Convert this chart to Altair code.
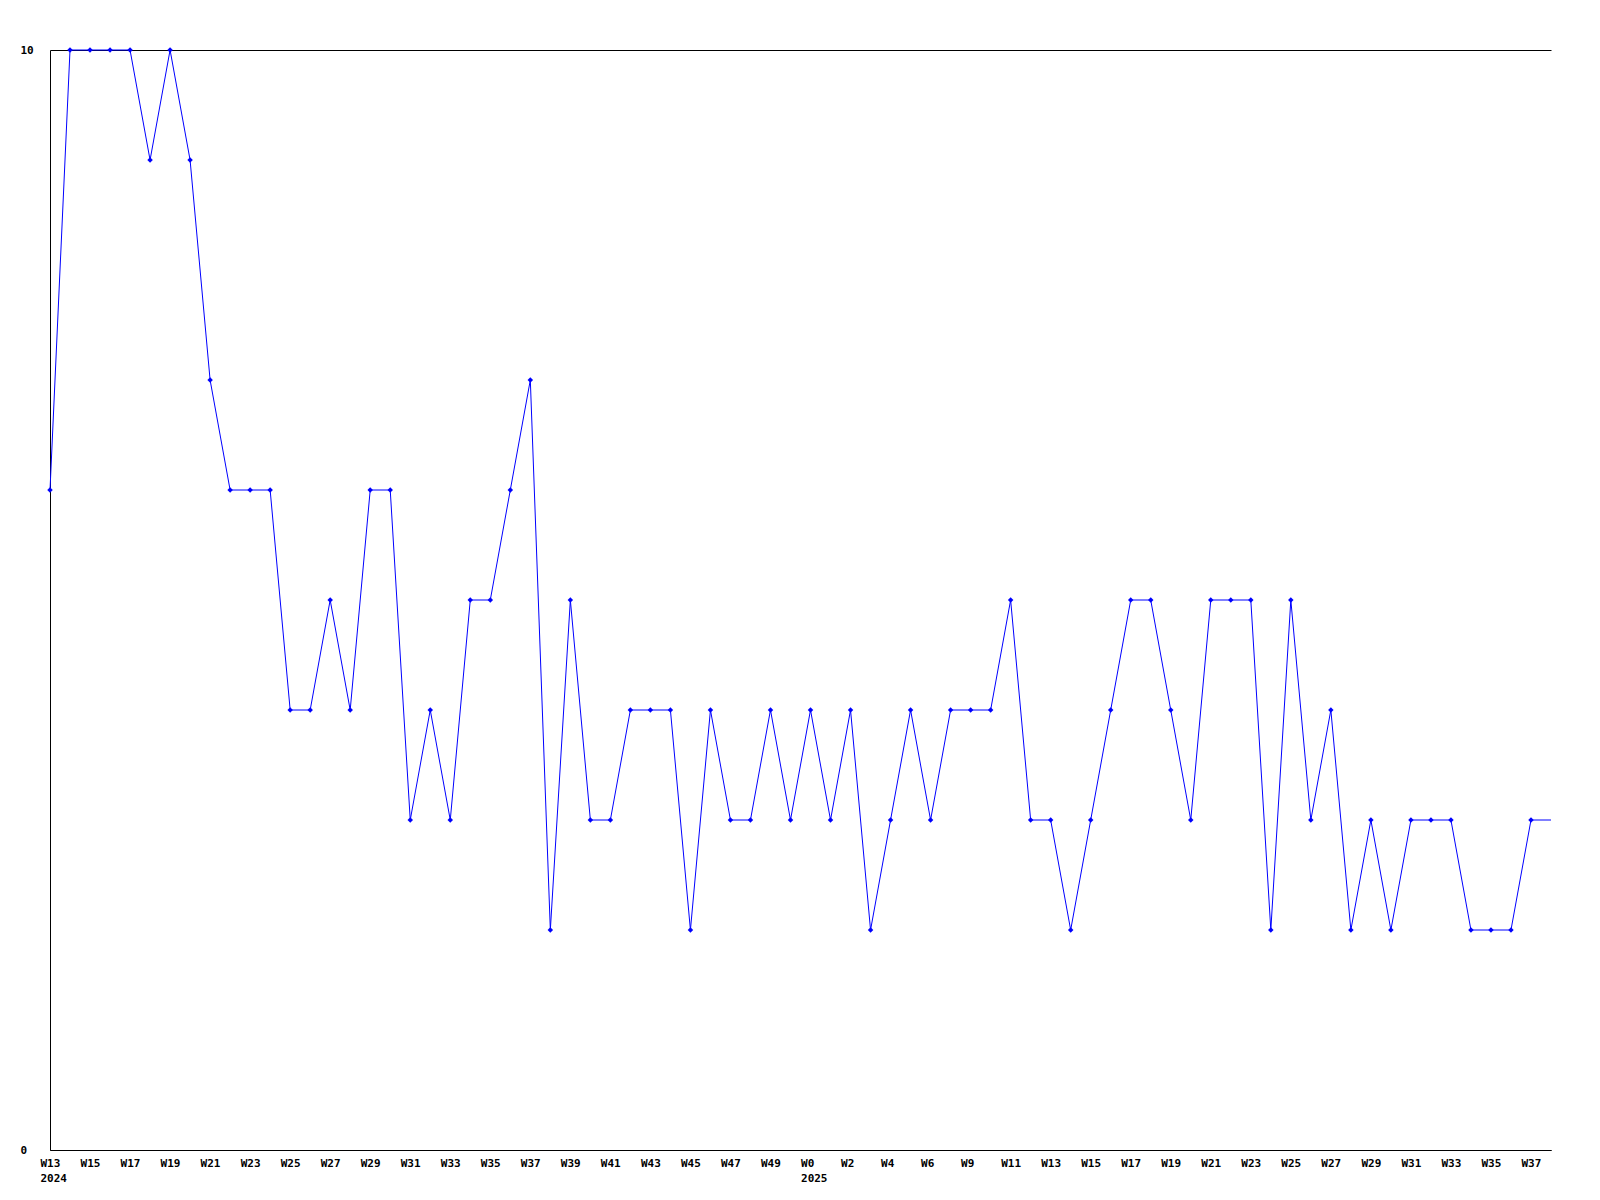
import json
import altair as alt
import pandas as pd

# one value per week, from 2024 W13 to the current week of 2025
values = [6, 10, 10, 10, 10, 9, 10, 9, 7, 6,
          6, 6, 4, 4, 5, 4, 6, 6, 3, 4,
          3, 5, 5, 6, 7, 2, 5, 3, 3, 4,
          4, 4, 2, 4, 3, 3, 4, 3, 4, 3,
          4, 2, 3, 4, 3, 4, 4, 4, 5, 3,
          3, 2, 3, 4, 5, 5, 4, 3, 5, 5,
          5, 2, 5, 3, 4, 2, 3, 2, 3, 3,
          3, 2, 2, 2, 3, 3]

# tick labels (every second week)
week_labels = ["W13", "W15", "W17", "W19", "W21", "W23", "W25", "W27", "W29", "W31",
               "W33", "W35", "W37", "W39", "W41", "W43", "W45", "W47", "W49", "W0",
               "W2", "W4", "W6", "W9", "W11", "W13", "W15", "W17", "W19", "W21",
               "W23", "W25", "W27", "W29", "W31", "W33", "W35", "W37"]
year_labels = {0: "2024", 19: "2025"}

tick_text = []
for i, w in enumerate(week_labels):
    if i in year_labels:
        tick_text.append([w, year_labels[i]])
    else:
        tick_text.append([w])

n_marked = len(values) - 1  # last (current) week drawn without a marker

df = pd.DataFrame({"idx": list(range(len(values))), "value": values})

FONT = "DejaVu Sans Mono"
BLUE = "#0000ff"

label_expr = json.dumps(tick_text).replace('"', "'") + "[floor(datum.value / 2)]"

x_enc = alt.X(
    "idx:Q",
    scale=alt.Scale(domain=[0, len(values) - 1], nice=False, zero=False),
    axis=alt.Axis(
        values=list(range(0, 2 * len(week_labels), 2)),
        labelExpr=label_expr,
        ticks=False,
        grid=False,
        domainColor="black",
        domainWidth=1,
        labelAlign="left",
        labelBaseline="top",
        labelOffset=-10,
        labelPadding=7,
        labelLineHeight=15,
        labelFont=FONT,
        labelFontSize=11,
        labelFontWeight="bold",
        labelColor="black",
        labelOverlap=False,
        labelFlush=False,
        title=None,
    ),
)
y_enc = alt.Y(
    "value:Q",
    scale=alt.Scale(domain=[0, 10], nice=False),
    axis=alt.Axis(
        values=[0, 10],
        ticks=False,
        grid=True,
        gridColor="black",
        gridOpacity=1,
        gridWidth=1,
        domainColor="black",
        domainWidth=1,
        labelAlign="left",
        labelPadding=30,
        labelFont=FONT,
        labelFontSize=11,
        labelFontWeight="bold",
        labelColor="black",
        title=None,
    ),
)

base = alt.Chart(df)
line = base.mark_line(color=BLUE, strokeWidth=1).encode(x=x_enc, y=y_enc)
points = base.transform_filter(alt.datum.idx < n_marked).mark_point(
    shape="diamond", filled=True, color=BLUE, size=30, opacity=1
).encode(x=x_enc, y=y_enc)

chart = (
    alt.layer(line, points)
    .properties(
        width=1501,
        height=1100,
        autosize=alt.AutoSizeParams(type="none"),
        padding={"left": 42, "top": 42, "right": 40, "bottom": 42},
        background="white",
    )
    .configure_view(stroke=None)
)

chart.save("out.html", embed_options={"renderer": "svg", "actions": False})
